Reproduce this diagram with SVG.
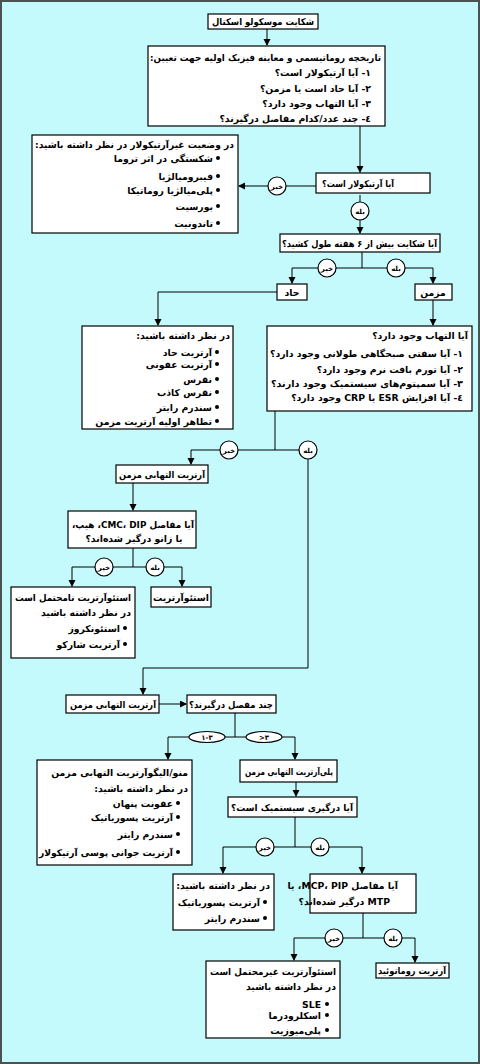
<svg xmlns="http://www.w3.org/2000/svg" width="480" height="1064" viewBox="0 0 480 1064">
<defs>
<marker id="ah" markerUnits="userSpaceOnUse" markerWidth="8" markerHeight="8" refX="6" refY="3.5" orient="auto"><path d="M0,0 L7,3.5 L0,7 z" fill="#000"/></marker>
<style>
.bg{fill:#c4fafc;stroke:#4a5252;stroke-width:2}
.box{fill:#fff;stroke:#000;stroke-width:1.2}
.ln{fill:none;stroke:#000;stroke-width:1}
.ar{fill:none;stroke:#000;stroke-width:1;marker-end:url(#ah)}
.lbl{fill:#fff;stroke:#000;stroke-width:1.2}
.t{font-family:"DejaVu Sans",sans-serif;font-size:9.3px;font-weight:bold;fill:#000;direction:rtl;text-anchor:start}
.c{font-family:"DejaVu Sans",sans-serif;font-size:9.3px;font-weight:bold;fill:#000;direction:rtl;text-anchor:middle}
.s{font-family:"DejaVu Sans",sans-serif;font-size:7px;font-weight:bold;fill:#000;text-anchor:middle}
.b{fill:#000}
</style>
</defs>
<rect class="bg" x="1" y="1" width="478" height="1062"/>

<g id="connectors">
<path class="ar" d="M267,29 V45"/>
<path class="ar" d="M360,126 V172"/>
<path class="ln" d="M316,186 H286"/>
<path class="ar" d="M268,186 H239"/>
<path class="ln" d="M360,195 V202"/>
<path class="ar" d="M360,220 V233"/>
<path class="ln" d="M362,252 V268 M292,268 H318 M336,268 H387 M405,268 H433"/>
<path class="ar" d="M292,268 V283"/>
<path class="ar" d="M433,268 V283"/>
<path class="ar" d="M277,292 H158 V325"/>
<path class="ar" d="M433,300 V325"/>
<path class="ln" d="M275,411 V450 M191,450 H220 M238,450 H299"/>
<path class="ar" d="M191,450 V464"/>
<path class="ar" d="M308,459 V668 H143 V694"/>
<path class="ar" d="M133,483 V510"/>
<path class="ln" d="M133,548 V567 M72,567 H95 M113,567 H146 M164,567 H182"/>
<path class="ar" d="M72,567 V586"/>
<path class="ar" d="M182,567 V586"/>
<path class="ar" d="M159,704 H186"/>
<path class="ln" d="M235,713 V737 M168,737 H189 M225,737 H246 M282,737 H295"/>
<path class="ar" d="M168,737 V759"/>
<path class="ar" d="M295,737 V759"/>
<path class="ar" d="M296,782 V796"/>
<path class="ln" d="M295,817 V847 M223,847 H256 M274,847 H311 M329,847 H362"/>
<path class="ar" d="M223,847 V873"/>
<path class="ar" d="M362,847 V873"/>
<path class="ln" d="M363,913 V938 M294,938 H325 M343,938 H384 M402,938 H415"/>
<path class="ar" d="M294,938 V960"/>
<path class="ar" d="M415,938 V962"/>
</g>

<g id="labels">
<g id="l-no1"><circle class="lbl" cx="277" cy="186" r="9"/><text class="s" x="277" y="189">خیر</text></g>
<g id="l-yes1"><circle class="lbl" cx="360" cy="211" r="9"/><text class="s" x="360" y="214">بله</text></g>
<g id="l-no2"><circle class="lbl" cx="327" cy="268" r="9"/><text class="s" x="327" y="271">خیر</text></g>
<g id="l-yes2"><circle class="lbl" cx="396" cy="268" r="9"/><text class="s" x="396" y="271">بله</text></g>
<g id="l-no3"><circle class="lbl" cx="229" cy="450" r="9"/><text class="s" x="229" y="453">خیر</text></g>
<g id="l-yes3"><circle class="lbl" cx="308" cy="450" r="9"/><text class="s" x="308" y="453">بله</text></g>
<g id="l-no4"><circle class="lbl" cx="104" cy="567" r="9"/><text class="s" x="104" y="570">خیر</text></g>
<g id="l-yes4"><circle class="lbl" cx="155" cy="567" r="9"/><text class="s" x="155" y="570">بله</text></g>
<g id="l-13"><ellipse class="lbl" cx="207" cy="737" rx="18" ry="5.5"/><text class="s" x="207" y="740" direction="ltr">۱-۳</text></g>
<g id="l-gt3"><ellipse class="lbl" cx="264" cy="737" rx="18" ry="5.5"/><text class="s" x="264" y="740" direction="ltr">&gt;۳</text></g>
<g id="l-no5"><circle class="lbl" cx="265" cy="847" r="9"/><text class="s" x="265" y="850">خیر</text></g>
<g id="l-yes5"><circle class="lbl" cx="320" cy="847" r="9"/><text class="s" x="320" y="850">بله</text></g>
<g id="l-no6"><circle class="lbl" cx="334" cy="938" r="9"/><text class="s" x="334" y="941">خیر</text></g>
<g id="l-yes6"><circle class="lbl" cx="393" cy="938" r="9"/><text class="s" x="393" y="941">بله</text></g>
</g>

<g id="n1"><rect class="box" x="208" y="14" width="110" height="15"/><text class="c" x="263" y="25" textLength="102" lengthAdjust="spacingAndGlyphs">شکایت موسکولو اسکتال</text></g>

<g id="n2"><rect class="box" x="148" y="46" width="237" height="80"/>
<text class="t" x="381" y="61" textLength="231" lengthAdjust="spacingAndGlyphs">تاریخچه روماتیسمی و معاینه فیزیک اولیه جهت تعیین:</text>
<text class="t" x="371" y="76">۱- آیا آرتیکولار است؟</text>
<text class="t" x="371" y="92">۲- آیا حاد است یا مزمن؟</text>
<text class="t" x="371" y="107">۳- آیا التهاب وجود دارد؟</text>
<text class="t" x="371" y="122">٤- چند عدد/کدام مفاصل درگیرند؟</text>
</g>

<g id="n3"><rect class="box" x="316" y="173" width="114" height="20"/><text class="t" x="394" y="187" textLength="72" lengthAdjust="spacingAndGlyphs">آیا آرتیکولار است؟</text></g>

<g id="n4"><rect class="box" x="32" y="135" width="206" height="98"/>
<text class="t" x="234" y="148" textLength="199" lengthAdjust="spacingAndGlyphs">در وضعیت غیرآرتیکولار در نظر داشته باشید:</text>
<circle class="b" cx="218" cy="158" r="2"/><text class="t" x="213" y="162">شکستگی در اثر تروما</text>
<circle class="b" cx="218" cy="176" r="2"/><text class="t" x="213" y="180">فیبرومیالژیا</text>
<circle class="b" cx="218" cy="190" r="2"/><text class="t" x="213" y="194">پلی‌میالژیا روماتیکا</text>
<circle class="b" cx="218" cy="206" r="2"/><text class="t" x="213" y="210">بورسیت</text>
<circle class="b" cx="218" cy="223" r="2"/><text class="t" x="213" y="227">تاندونیت</text>
</g>

<g id="n5"><rect class="box" x="280" y="234" width="160" height="18"/><text class="t" x="437" y="247" textLength="155" lengthAdjust="spacingAndGlyphs">آیا شکایت بیش از ۶ هفته طول کشید؟</text></g>

<g id="n6"><rect class="box" x="277" y="284" width="30" height="16"/><text class="c" x="292" y="296">حاد</text></g>
<g id="n7"><rect class="box" x="415" y="284" width="37" height="16"/><text class="c" x="433" y="296">مزمن</text></g>

<g id="n8"><rect class="box" x="82" y="326" width="151" height="103"/>
<text class="t" x="230" y="339">در نظر داشته باشید:</text>
<circle class="b" cx="217" cy="352" r="2"/><text class="t" x="212" y="356">آرتریت حاد</text>
<circle class="b" cx="217" cy="364" r="2"/><text class="t" x="212" y="368">آرتریت عفونی</text>
<circle class="b" cx="217" cy="379" r="2"/><text class="t" x="212" y="383">نقرس</text>
<circle class="b" cx="217" cy="392" r="2"/><text class="t" x="212" y="396">نقرس کاذب</text>
<circle class="b" cx="217" cy="407" r="2"/><text class="t" x="212" y="411">سندرم رایتر</text>
<circle class="b" cx="217" cy="421" r="2"/><text class="t" x="212" y="425">تظاهر اولیه آرتریت مزمن</text>
</g>

<g id="n9"><rect class="box" x="267" y="326" width="205" height="85"/>
<text class="t" x="468" y="339">آیا التهاب وجود دارد؟</text>
<text class="t" x="463" y="357" textLength="193" lengthAdjust="spacingAndGlyphs">۱- آیا سفتی صبحگاهی طولانی وجود دارد؟</text>
<text class="t" x="463" y="373">۲- آیا تورم بافت نرم وجود دارد؟</text>
<text class="t" x="463" y="387" textLength="192" lengthAdjust="spacingAndGlyphs">۳- آیا سمپتوم‌های سیستمیک وجود دارند؟</text>
<text class="t" x="463" y="401">٤- آیا افزایش ESR یا CRP وجود دارد؟</text>
</g>

<g id="n10"><rect class="box" x="116" y="465" width="92" height="18"/><text class="c" x="162" y="478" textLength="86" lengthAdjust="spacingAndGlyphs">آرتریت التهابی مزمن</text></g>

<g id="n11"><rect class="box" x="68" y="511" width="128" height="37"/>
<text class="c" x="133" y="528" textLength="122" lengthAdjust="spacingAndGlyphs">آیا مفاصل CMC، DIP، هیپ،</text>
<text class="c" x="134" y="542">یا زانو درگیر شده‌اند؟</text>
</g>

<g id="n12"><rect class="box" x="11" y="587" width="124" height="71"/>
<text class="t" x="131" y="601" textLength="116" lengthAdjust="spacingAndGlyphs">استئوآرتریت نامحتمل است</text>
<text class="t" x="131" y="616">در نظر داشته باشید</text>
<circle class="b" cx="125" cy="628" r="2"/><text class="t" x="120" y="632">استئونکروز</text>
<circle class="b" cx="125" cy="644" r="2"/><text class="t" x="120" y="648">آرتریت شارکو</text>
</g>

<g id="n13"><rect class="box" x="151" y="587" width="60" height="20"/><text class="c" x="181" y="601" textLength="56" lengthAdjust="spacingAndGlyphs">استئوآرتریت</text></g>

<g id="n14"><rect class="box" x="66" y="695" width="93" height="18"/><text class="c" x="113" y="708" textLength="86" lengthAdjust="spacingAndGlyphs">آرتریت التهابی مزمن</text></g>

<g id="n15"><rect class="box" x="187" y="695" width="89" height="18"/><text class="c" x="231" y="708" textLength="84" lengthAdjust="spacingAndGlyphs">چند مفصل درگیرند؟</text></g>

<g id="n16"><rect class="box" x="37" y="760" width="155" height="105"/>
<text class="t" x="188" y="776">منو/الیگوآرتریت التهابی مزمن</text>
<text class="t" x="188" y="792">در نظر داشته باشید:</text>
<circle class="b" cx="178" cy="803" r="2"/><text class="t" x="173" y="807">عفونت پنهان</text>
<circle class="b" cx="178" cy="817" r="2"/><text class="t" x="173" y="821">آرتریت پسوریاتیک</text>
<circle class="b" cx="178" cy="834" r="2"/><text class="t" x="173" y="838">سندرم رایتر</text>
<circle class="b" cx="178" cy="852" r="2"/><text class="t" x="173" y="856" textLength="134" lengthAdjust="spacingAndGlyphs">آرتریت جوانی پوسی آرتیکولار</text>
</g>

<g id="n17"><rect class="box" x="240" y="760" width="97" height="22"/><text class="c" x="289" y="775" textLength="88" lengthAdjust="spacingAndGlyphs">پلی‌آرتریت التهابی مزمن</text></g>

<g id="n18"><rect class="box" x="228" y="797" width="129" height="20"/><text class="c" x="292" y="811" textLength="122" lengthAdjust="spacingAndGlyphs">آیا درگیری سیستمیک است؟</text></g>

<g id="n19"><rect class="box" x="173" y="874" width="101" height="56"/>
<text class="t" x="270" y="889">در نظر داشته باشید:</text>
<circle class="b" cx="265" cy="902" r="2"/><text class="t" x="260" y="906">آرتریت پسوریاتیک</text>
<circle class="b" cx="265" cy="918" r="2"/><text class="t" x="260" y="922">سندرم رایتر</text>
</g>

<g id="n20"><rect class="box" x="310" y="874" width="106" height="39"/>
<text class="t" x="398" y="889">آیا مفاصل MCP، PIP، یا</text>
<text class="t" x="390" y="905">MTP درگیر شده‌اند؟</text>
</g>

<g id="n21"><rect class="box" x="206" y="961" width="134" height="77"/>
<text class="t" x="336" y="975" textLength="126" lengthAdjust="spacingAndGlyphs">استئوآرتریت غیرمحتمل است</text>
<text class="t" x="336" y="990">در نظر داشته باشید</text>
<circle class="b" cx="327" cy="1004" r="2"/><text class="t" x="321" y="1008">SLE</text>
<circle class="b" cx="327" cy="1015" r="2"/><text class="t" x="321" y="1019">اسکلرودرما</text>
<circle class="b" cx="327" cy="1030" r="2"/><text class="t" x="321" y="1034">پلی‌میوزیت</text>
</g>

<g id="n22"><rect class="box" x="376" y="963" width="73" height="15"/><text class="c" x="412" y="974" textLength="68" lengthAdjust="spacingAndGlyphs">آرتریت روماتوئید</text></g>
</svg>
